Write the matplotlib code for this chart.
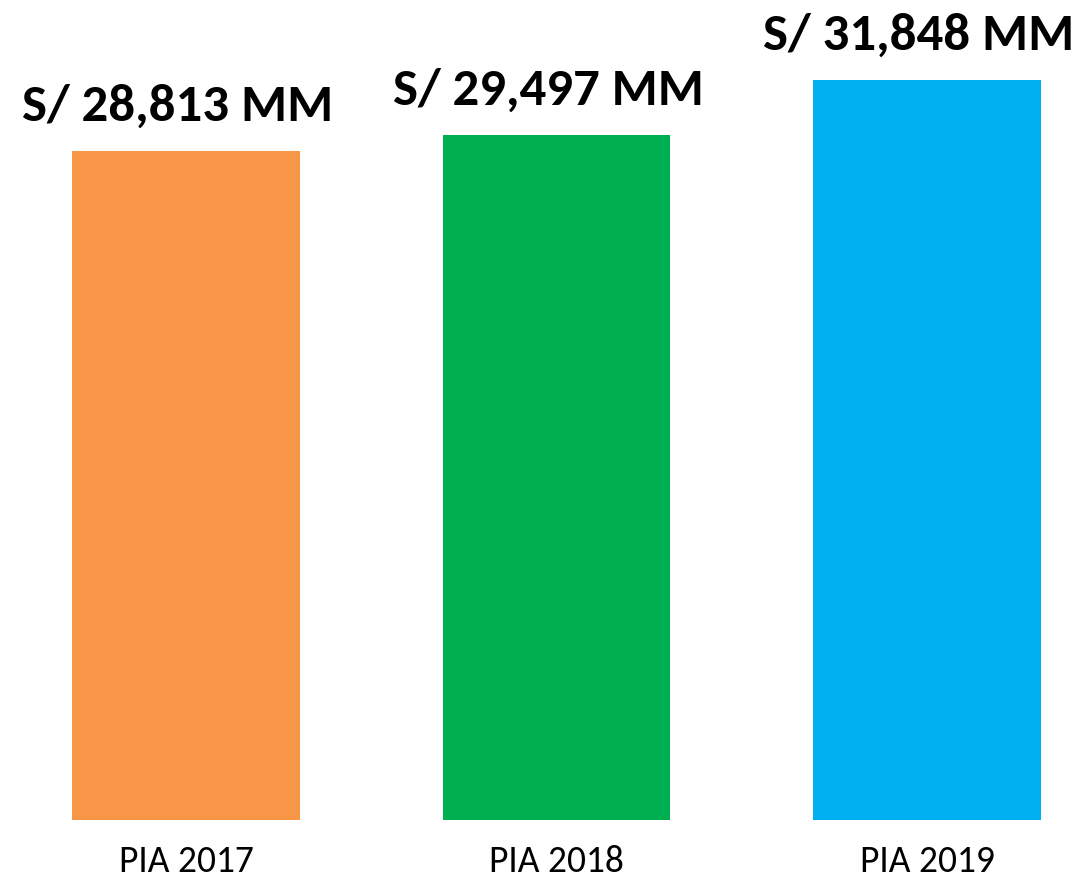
import matplotlib
matplotlib.use("Agg")
import matplotlib.pyplot as plt

categories = ["PIA 2017", "PIA 2018", "PIA 2019"]
values = [28813, 29497, 31848]
value_labels = ["S/ 28,813 MM", "S/ 29,497 MM", "S/ 31,848 MM"]
colors = ["#F79646", "#00B050", "#00B0F0"]

FONT = ["Carlito", "DejaVu Sans"]

fig = plt.figure(figsize=(10.8, 8.77), dpi=100)
ax = fig.add_axes([0, 57 / 877, 1, 820 / 877])
x = [0, 1, 2]
bars = ax.bar(x, values, width=0.615, color=colors)
ax.set_xlim(-0.502, 2.413)
ax.set_ylim(0, 35307)

for b, lab in zip(bars, value_labels):
    ax.annotate(lab, (b.get_x() + b.get_width() / 2, b.get_height()),
                xytext=(-6, 16), textcoords="offset points", ha="center", va="bottom",
                fontsize=38, fontweight="bold", family=FONT)

ax.set_xticks(x)
ax.set_xticklabels(categories, fontsize=27, family=FONT)
ax.tick_params(axis="x", length=0, pad=18)
ax.set_yticks([])
for s in ax.spines.values():
    s.set_visible(False)

fig.savefig("out.png", dpi=100)
